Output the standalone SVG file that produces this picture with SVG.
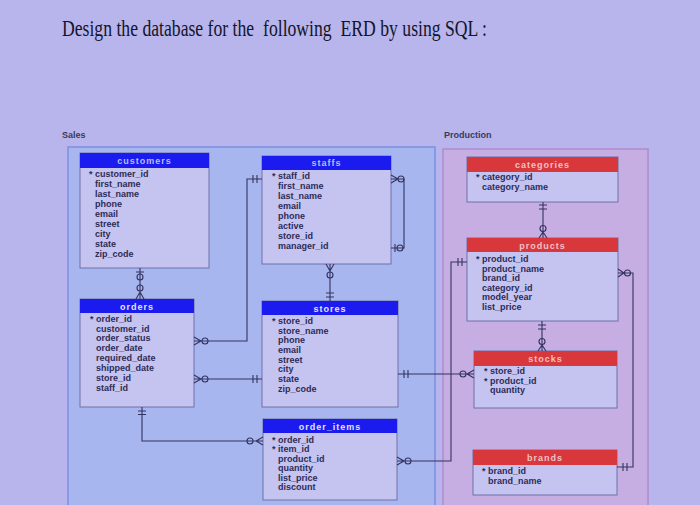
<svg xmlns="http://www.w3.org/2000/svg" width="700" height="505" viewBox="0 0 700 505">
<style>
.title{font-family:"Liberation Serif","Times New Roman",serif;font-size:23px;fill:#14142a}
.area{font-family:"Liberation Sans",Arial,sans-serif;font-size:9px;font-weight:bold;fill:#3a3a5a}
.body{fill:#c5c3ef;stroke:#6e70a8;stroke-width:1}
.hb{fill:#1b1bf0}
.hr{fill:#d8383c}
.ht{font-family:"Liberation Sans",Arial,sans-serif;font-size:9px;font-weight:bold;letter-spacing:1px;text-anchor:middle}
.htb{fill:#b9bdf5}
.htw{fill:#e4e4ff}
.htr{fill:#f3c0c4}
.f{font-family:"Liberation Sans",Arial,sans-serif;font-size:9px;font-weight:bold;fill:#2c2c58}
.c{fill:none;stroke:#33335f;stroke-width:1.1}
</style>
<rect width="700" height="505" fill="#b7b5ec"/>
<text class="title" x="62" y="36" textLength="425" lengthAdjust="spacingAndGlyphs" xml:space="preserve">Design the database for the  following  ERD by using SQL :</text>
<text class="area" x="62" y="138">Sales</text>
<text class="area" x="444" y="138">Production</text>
<rect x="68" y="147" width="367" height="370" fill="#a8b6f0" stroke="#7d8fe0" stroke-width="1.5"/>
<rect x="443" y="149" width="205" height="370" fill="#c6aee3" stroke="#b08ad0" stroke-width="1.5"/>

<g id="customers">
<rect class="body" x="80" y="153" width="129" height="115"/>
<rect class="hb" x="80" y="153" width="129" height="15"/>
<text class="ht htb" x="144.5" y="163.5">customers</text>
<text class="f" x="89" y="177">* customer_id</text>
<text class="f" x="95" y="187">first_name</text>
<text class="f" x="95" y="197">last_name</text>
<text class="f" x="95" y="207">phone</text>
<text class="f" x="95" y="217">email</text>
<text class="f" x="95" y="227">street</text>
<text class="f" x="95" y="237">city</text>
<text class="f" x="95" y="247">state</text>
<text class="f" x="95" y="257">zip_code</text>
</g>
<g id="staffs">
<rect class="body" x="262" y="156" width="129" height="108"/>
<rect class="hb" x="262" y="156" width="129" height="14"/>
<text class="ht htb" x="326.5" y="166">staffs</text>
<text class="f" x="272" y="178.5">* staff_id</text>
<text class="f" x="278" y="188.5">first_name</text>
<text class="f" x="278" y="198.5">last_name</text>
<text class="f" x="278" y="208.5">email</text>
<text class="f" x="278" y="218.5">phone</text>
<text class="f" x="278" y="228.5">active</text>
<text class="f" x="278" y="238.5">store_id</text>
<text class="f" x="278" y="248.5">manager_id</text>
</g>
<g id="orders">
<rect class="body" x="80" y="299" width="114" height="108"/>
<rect class="hb" x="80" y="299" width="114" height="14"/>
<text class="ht htw" x="137" y="309.5">orders</text>
<text class="f" x="90" y="322">* order_id</text>
<text class="f" x="96" y="331.5">customer_id</text>
<text class="f" x="96" y="341">order_status</text>
<text class="f" x="96" y="350.5">order_date</text>
<text class="f" x="96" y="360.5">required_date</text>
<text class="f" x="96" y="370.5">shipped_date</text>
<text class="f" x="96" y="380.5">store_id</text>
<text class="f" x="96" y="390.5">staff_id</text>
</g>
<g id="stores">
<rect class="body" x="262" y="301" width="136" height="106"/>
<rect class="hb" x="262" y="301" width="136" height="14"/>
<text class="ht htw" x="330" y="311.5">stores</text>
<text class="f" x="272" y="324">* store_id</text>
<text class="f" x="278" y="333.5">store_name</text>
<text class="f" x="278" y="343">phone</text>
<text class="f" x="278" y="352.5">email</text>
<text class="f" x="278" y="362.5">street</text>
<text class="f" x="278" y="372">city</text>
<text class="f" x="278" y="381.5">state</text>
<text class="f" x="278" y="391.5">zip_code</text>
</g>
<g id="order_items">
<rect class="body" x="263" y="419" width="134" height="81"/>
<rect class="hb" x="263" y="419" width="134" height="14"/>
<text class="ht htw" x="330" y="429.5">order_items</text>
<text class="f" x="272" y="442.5">* order_id</text>
<text class="f" x="272" y="452">* item_id</text>
<text class="f" x="278" y="461.5">product_id</text>
<text class="f" x="278" y="471">quantity</text>
<text class="f" x="278" y="480.5">list_price</text>
<text class="f" x="278" y="490">discount</text>
</g>
<g id="categories">
<rect class="body" x="467" y="157" width="151" height="45"/>
<rect class="hr" x="467" y="157" width="151" height="15"/>
<text class="ht htr" x="542.5" y="167.5">categories</text>
<text class="f" x="476" y="180">* category_id</text>
<text class="f" x="482" y="190">category_name</text>
</g>
<g id="products">
<rect class="body" x="467" y="238" width="151" height="83"/>
<rect class="hr" x="467" y="238" width="151" height="14"/>
<text class="ht htr" x="542.5" y="248.5">products</text>
<text class="f" x="476" y="262">* product_id</text>
<text class="f" x="482" y="271.5">product_name</text>
<text class="f" x="482" y="281">brand_id</text>
<text class="f" x="482" y="290.5">category_id</text>
<text class="f" x="482" y="300">model_year</text>
<text class="f" x="482" y="309.5">list_price</text>
</g>
<g id="stocks">
<rect class="body" x="474" y="351" width="143" height="57"/>
<rect class="hr" x="474" y="351" width="143" height="15"/>
<text class="ht htr" x="545.5" y="361.5">stocks</text>
<text class="f" x="484" y="374">* store_id</text>
<text class="f" x="484" y="383.5">* product_id</text>
<text class="f" x="490" y="393">quantity</text>
</g>
<g id="brands">
<rect class="body" x="473" y="450" width="144" height="45"/>
<rect class="hr" x="473" y="450" width="144" height="15"/>
<text class="ht htr" x="545" y="460.5">brands</text>
<text class="f" x="482" y="473.5">* brand_id</text>
<text class="f" x="488" y="483.5">brand_name</text>
</g>

<g id="connectors" class="c">
<path d="M262,179 H247 V341 H194 M253,175 V183 M257,175 V183 M194,337 L201,341 L194,345"/>
<circle cx="205" cy="341" r="3"/>
<path d="M194,379 H262 M253,375 V383 M257,375 V383 M194,375 L201,379 L194,383"/>
<circle cx="205" cy="379" r="3"/>
<path d="M140,268 V299 M136,272 H144 M136,299 L140,292 L144,299"/>
<circle cx="140" cy="277" r="3"/>
<circle cx="140" cy="288" r="3"/>
<path d="M142,407 V441 H263 M138,411 H146 M138,414.5 H146 M263,437 L256,441 L263,445"/>
<circle cx="250" cy="441" r="3"/>
<path d="M330,264 V301 M326,264 L330,271 L334,264 M326,293 H334 M326,297 H334"/>
<circle cx="330" cy="275" r="3"/>
<path d="M391,179 H404 V248 H391 M391,175 L398,179 L391,183 M395,244 V252"/>
<circle cx="401" cy="179" r="3"/>
<circle cx="400" cy="248" r="3"/>
<path d="M398,374 H474 M404,370 V378 M408,370 V378 M474,370 L467,374 L474,378"/>
<circle cx="463" cy="374" r="3"/>
<path d="M543,202 V238 M539,205 H547 M539,209 H547 M539,238 L543,232 L547,238"/>
<circle cx="543" cy="228.5" r="3"/>
<path d="M542,321 V351 M538,325 H546 M538,329 H546 M538,351 L542,345 L546,351"/>
<circle cx="542" cy="341.5" r="3"/>
<path d="M467,262 H451 V461 H397 M458,258 V266 M462,258 V266 M397,457 L404,461 L397,465"/>
<circle cx="408" cy="461" r="3"/>
<path d="M618,273 H633 V467 H617 M618,269 L624,273 L618,277 M623,463 V471 M627,463 V471"/>
<circle cx="627.5" cy="273" r="3"/>
</g>
</svg>
